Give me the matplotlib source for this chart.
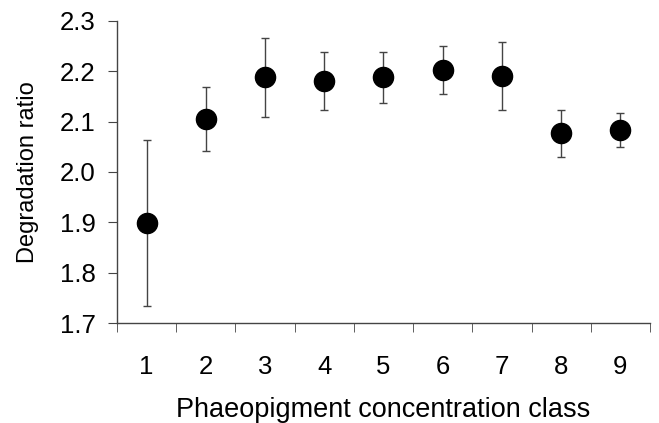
import numpy as np
import matplotlib
matplotlib.use('Agg')
import matplotlib.pyplot as plt

classes = [1, 2, 3, 4, 5, 6, 7, 8, 9]
ratio   = [1.898, 2.105, 2.188, 2.181, 2.188, 2.203, 2.191, 2.077, 2.083]
err     = [0.165, 0.063, 0.079, 0.057, 0.051, 0.048, 0.068, 0.047, 0.034]
yticks  = [1.7, 1.8, 1.9, 2.0, 2.1, 2.2, 2.3]

plt.rcParams['font.family'] = ['Liberation Sans', 'DejaVu Sans']

fig = plt.figure(figsize=(6.59, 4.23), dpi=100)
ax = fig.add_axes([0.1775, 0.2364, 0.8088, 0.714])

ax.errorbar(classes, ratio, yerr=err, fmt='o', color='black', ms=14.5,
            ecolor='#444444', elinewidth=1.0, capsize=3, capthick=1.0, zorder=3)

ax.set_xlim(0.5, 9.5)
ax.set_ylim(1.7, 2.3)
ax.set_yticks(yticks)
ax.set_yticklabels(['%.1f' % v for v in yticks])
ax.set_xticks(classes)
ax.set_xticklabels([str(c) for c in classes])
ax.set_xticks(np.arange(0.5, 9.6, 1.0), minor=True)

for s in ['top', 'right']:
    ax.spines[s].set_visible(False)
for s in ['left', 'bottom']:
    ax.spines[s].set_color('#444444')
    ax.spines[s].set_linewidth(1.0)

ax.tick_params(axis='y', direction='out', length=6.5, color='#444444', labelsize=18.5, pad=9)
ax.tick_params(axis='x', which='major', length=0, labelsize=18.5, pad=23)
ax.tick_params(axis='x', which='minor', direction='out', length=6.5, color='#444444')

ax.set_ylabel('Degradation ratio', fontsize=17, labelpad=15)
ax.set_xlabel('Phaeopigment concentration class', fontsize=19.5, labelpad=13)

fig.savefig('out.png', dpi=100)
